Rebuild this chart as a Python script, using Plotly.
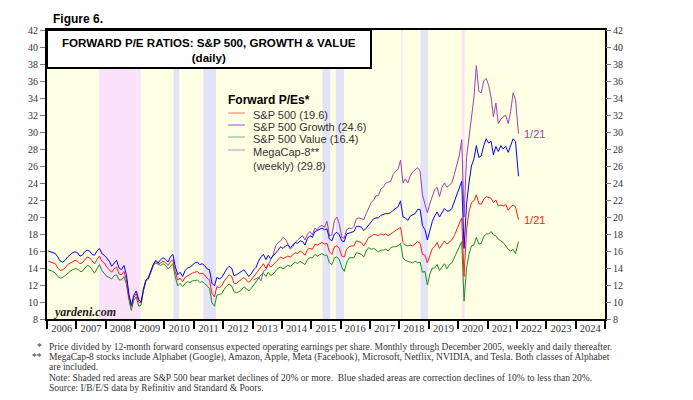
import pandas as pd
import plotly.graph_objects as go

# monthly readings (mid-month), last point is 2022-01-21
months = list(pd.date_range("2006-01-01", "2021-12-01", freq="MS") + pd.Timedelta(days=14))
dates = months + [pd.Timestamp("2022-01-21")]
mega_dates = [d for d in dates if d >= pd.Timestamp("2013-01-01")]

sp500 = [
    14.8, 14.7, 14.6, 14.5, 14.0, 13.7, 13.8, 14.0, 14.4, 14.6, 14.8, 14.9,
    14.8, 14.5, 14.6, 15.0, 15.3, 15.2, 14.8, 14.5, 15.0, 15.4, 14.8, 14.6,
    14.1, 13.8, 13.5, 13.9, 14.1, 13.3, 13.2, 13.6, 12.6, 10.6, 9.5, 10.5,
    11.0, 10.0, 9.9, 11.5, 12.6, 12.9, 13.6, 14.4, 14.8, 14.5, 14.6, 14.8,
    14.6, 14.3, 14.7, 15.0, 13.6, 12.6, 12.8, 12.4, 12.9, 13.1, 13.2, 13.4,
    13.5, 13.6, 13.3, 13.4, 13.2, 12.8, 12.6, 11.0, 10.6, 11.8, 11.7, 11.9,
    12.5, 12.9, 13.2, 13.0, 12.2, 12.2, 12.4, 12.6, 12.9, 12.6, 12.3, 12.6,
    13.0, 13.3, 13.8, 14.2, 14.5, 14.0, 14.5, 14.1, 14.4, 14.8, 15.1, 15.3,
    15.1, 15.3, 15.4, 15.3, 15.6, 15.8, 15.7, 16.0, 15.8, 15.5, 16.2, 16.3,
    16.2, 16.8, 16.7, 16.9, 17.0, 16.8, 16.9, 15.9, 15.6, 16.5, 16.6, 16.3,
    15.4, 15.3, 16.2, 16.5, 16.6, 16.6, 17.2, 17.1, 17.0, 16.6, 17.2, 17.6,
    17.7, 18.0, 17.9, 17.8, 18.0, 17.9, 18.0, 17.8, 18.0, 18.2, 18.3, 18.5,
    18.8, 17.0, 16.7, 16.6, 16.7, 16.6, 16.8, 17.1, 16.9, 15.6, 15.5, 14.6,
    15.5, 16.3, 16.5, 17.0, 16.3, 16.8, 17.2, 16.8, 17.0, 17.3, 17.8, 18.4,
    19.2, 19.9, 13.0, 18.5, 20.6, 21.7, 21.9, 22.6, 21.6, 21.5, 22.1, 22.4,
    22.3, 22.2, 21.7, 22.0, 21.3, 21.4, 21.3, 21.5, 20.8, 21.2, 21.4, 21.2,
    19.7,
]

growth = [
    16.0, 15.9, 15.8, 15.7, 15.3, 14.8, 14.7, 14.9, 15.3, 15.6, 15.8, 15.9,
    15.8, 15.4, 15.5, 15.9, 16.1, 16.0, 15.6, 15.5, 16.0, 16.3, 15.7, 15.5,
    15.1, 14.8, 14.2, 14.6, 14.9, 14.0, 13.8, 14.3, 13.2, 11.0, 9.6, 10.8,
    11.3, 10.3, 10.0, 11.5, 12.6, 12.8, 13.6, 14.4, 14.9, 14.6, 15.0, 15.2,
    15.0, 14.7, 15.3, 15.6, 14.2, 13.2, 13.5, 13.0, 13.7, 14.0, 14.1, 14.4,
    14.6, 14.7, 14.4, 14.5, 14.3, 13.9, 13.8, 12.2, 11.9, 12.9, 12.7, 12.9,
    13.5, 13.9, 14.2, 14.0, 13.1, 13.2, 13.4, 13.6, 13.8, 13.4, 13.0, 13.3,
    13.8, 14.1, 14.8, 15.3, 15.6, 15.0, 15.5, 15.1, 15.4, 15.8, 16.1, 16.5,
    16.3, 16.6, 16.7, 16.4, 16.7, 17.0, 16.9, 17.2, 17.1, 16.7, 17.5, 17.8,
    17.6, 18.3, 18.4, 18.6, 18.7, 18.5, 18.6, 17.4, 17.2, 18.0, 18.2, 17.9,
    17.2, 17.1, 18.0, 18.1, 18.2, 18.3, 18.9, 18.9, 18.8, 18.4, 18.7, 19.1,
    19.4, 19.8, 19.9, 19.9, 20.2, 20.3, 20.4, 20.4, 20.5, 20.8, 21.0, 21.2,
    21.9, 20.0, 19.9, 19.6, 20.1, 20.3, 20.4, 20.9, 20.9, 19.0, 18.5, 17.3,
    18.6, 19.5, 20.1, 20.6, 20.0, 20.6, 21.0, 20.7, 20.7, 21.0, 21.8, 22.6,
    23.3, 24.2, 16.3, 21.5, 24.0, 26.0, 26.8, 28.4, 27.0, 27.2, 28.4, 29.2,
    28.7, 28.9, 27.3, 28.3, 27.7, 28.4, 28.0, 28.3, 27.6, 28.4, 29.2, 28.9,
    24.8,
]

value = [
    13.8, 13.7, 13.6, 13.4, 13.0, 12.8, 12.9, 13.1, 13.4, 13.6, 13.8, 13.9,
    13.9, 13.6, 13.6, 14.0, 14.3, 14.2, 13.8, 13.4, 13.9, 14.4, 13.7, 13.4,
    13.0, 12.9, 12.7, 13.1, 13.2, 12.6, 12.6, 13.0, 12.1, 10.3, 9.0, 10.2,
    10.6, 9.5, 9.6, 11.3, 12.4, 12.7, 13.4, 14.3, 14.6, 14.4, 14.3, 14.5,
    14.3, 13.9, 14.2, 14.5, 13.0, 11.9, 12.2, 11.8, 12.2, 12.4, 12.3, 12.5,
    12.5, 12.6, 12.3, 12.4, 12.2, 11.9, 11.6, 9.9, 9.5, 10.8, 10.9, 11.0,
    11.5, 11.9, 12.1, 11.9, 11.2, 11.1, 11.2, 11.4, 11.8, 11.6, 11.3, 11.6,
    12.0, 12.3, 12.8, 13.2, 13.4, 13.0, 13.5, 13.1, 13.3, 13.7, 14.0, 14.1,
    13.9, 14.1, 14.3, 14.2, 14.4, 14.7, 14.5, 14.8, 14.6, 14.4, 15.0, 15.2,
    15.2, 15.6, 15.4, 15.6, 15.7, 15.5, 15.5, 14.6, 14.4, 15.2, 15.3, 15.0,
    14.1, 13.6, 14.6, 15.2, 15.2, 15.2, 15.8, 15.7, 15.6, 15.3, 16.0, 16.4,
    16.2, 16.3, 16.1, 15.9, 16.1, 16.1, 16.2, 16.0, 16.4, 16.5, 16.5, 16.6,
    16.9, 15.2, 14.9, 14.8, 14.7, 14.6, 14.8, 14.6, 14.7, 13.5, 13.6, 12.0,
    13.3, 14.0, 14.0, 14.4, 13.7, 14.1, 14.5, 13.9, 14.4, 14.6, 15.2, 15.8,
    16.3, 17.1, 10.1, 14.0, 15.6, 16.6, 16.7, 17.6, 16.8, 16.9, 17.7, 18.0,
    18.0, 18.3, 17.9, 17.8, 17.4, 17.2, 17.0, 16.6, 16.2, 16.0, 16.2, 15.7,
    17.1,
]

megacap8 = [
    12.6, 12.8, 12.9, 12.5, 13.6, 13.8, 14.4, 15.0, 15.6, 16.6, 17.0, 17.2,
    17.6, 17.4, 16.8, 16.2, 16.5, 17.0, 17.3, 17.6, 17.8, 17.3, 18.0, 18.3,
    17.9, 18.7, 18.5, 18.9, 19.0, 18.8, 19.5, 17.8, 17.9, 19.6, 20.0, 19.2,
    17.6, 17.5, 18.5, 18.7, 18.6, 18.9, 19.8, 19.9, 19.8, 19.7, 20.4, 21.0,
    21.7, 22.0, 22.5, 22.5, 23.3, 23.5, 24.0, 24.1, 24.2, 25.0, 25.4, 25.6,
    26.7, 24.0, 24.5, 24.0, 24.8, 25.3, 25.5, 25.8, 25.4, 22.6, 21.5, 20.5,
    21.6, 22.5, 23.2, 23.5, 22.4, 23.5, 24.0, 23.5, 23.8, 24.0, 25.0, 26.0,
    27.2, 29.1, 20.0, 27.0, 29.5, 31.4, 34.0, 37.8, 34.8, 34.6, 36.0, 36.3,
    35.5, 34.0, 31.8, 33.4, 31.0, 31.5, 31.8, 32.0, 31.0, 32.4, 34.6, 33.8,
    29.8,
]

# shaded periods
bear_markets = [("2007-10-09", "2009-03-09"), ("2020-02-19", "2020-03-23")]
corrections = [("2010-04-23", "2010-07-02"), ("2011-04-29", "2011-10-03"),
               ("2015-05-21", "2015-08-25"), ("2015-11-03", "2016-02-11"),
               ("2018-01-26", "2018-02-08"), ("2018-09-20", "2018-12-24")]

legend_names = ["S&P 500 (19.6)", "S&P 500 Growth (24.6)", "S&P 500 Value (16.4)",
                "MegaCap-8**<br>(weekly) (29.8)"]

footnotes = [
    ("*", "Price divided by 12-month forward consensus expected operating earnings per share. Monthly through December 2005, weekly and daily thereafter."),
    ("**", "MegaCap-8 stocks include Alphabet (Google), Amazon, Apple, Meta (Facebook), Microsoft, Netflix, NVIDIA, and Tesla. Both classes of Alphabet"),
    ("", "are included."),
    ("", "Note: Shaded red areas are S&P 500 bear market declines of 20% or more.  Blue shaded areas are correction declines of 10% to less than 20%."),
    ("", "Source: I/B/E/S data by Refinitiv and Standard & Poors."),
]

RED = "#FF1A1A"
BLUE = "#0000FF"
GREEN = "#1E8C1E"
PURPLE = "#A040B0"
SERIF = "Liberation Serif"
SANS = "Liberation Sans"

W, H = 693, 400
ML, MR, MT, MB = 47, 88, 30, 81
PW, PH = W - ML - MR, H - MT - MB


def px(x):
    return (x - ML) / PW


def py(y):
    return (H - MB - y) / PH


fig = go.Figure()
for name, xs, ys, col in [("MegaCap-8", mega_dates, megacap8, PURPLE),
                          ("S&P 500 Value", dates, value, GREEN),
                          ("S&P 500", dates, sp500, RED),
                          ("S&P 500 Growth", dates, growth, BLUE)]:
    fig.add_trace(go.Scatter(x=xs, y=ys, mode="lines", name=name,
                             line=dict(color=col, width=1), showlegend=False))
# invisible copy so the right-hand axis is drawn
fig.add_trace(go.Scatter(x=dates, y=sp500, yaxis="y2", mode="lines",
                         line=dict(width=0), opacity=0, showlegend=False,
                         hoverinfo="skip"))

shapes = []
for a, b in bear_markets:
    shapes.append(dict(type="rect", xref="x", yref="y", x0=a, x1=b, y0=8, y1=42,
                       fillcolor="#FBE2FB", line_width=0, layer="below"))
for a, b in corrections:
    shapes.append(dict(type="rect", xref="x", yref="y", x0=a, x1=b, y0=8, y1=42,
                       fillcolor="#E2E2F8", line_width=0, layer="below"))
# title box
shapes.append(dict(type="rect", xref="paper", yref="paper", x0=0, x1=px(371),
                   y0=py(68), y1=1, fillcolor="white",
                   line=dict(color="black", width=2)))
# legend samples
leg_cols = [RED, BLUE, GREEN, PURPLE]
leg_y = [113, 125, 137, 150]
for c, yy in zip(leg_cols, leg_y):
    shapes.append(dict(type="line", xref="paper", yref="paper", x0=px(228), x1=px(245),
                       y0=py(yy), y1=py(yy), line=dict(color=c, width=1), opacity=0.6))

ann = []
ann.append(dict(text="<b>Figure 6.</b>", xref="paper", yref="paper", x=px(51), y=py(19),
                xanchor="left", yanchor="middle", showarrow=False,
                font=dict(family=SANS, size=12, color="black")))
ann.append(dict(text="<b>FORWARD P/E RATIOS: S&P 500, GROWTH & VALUE</b><br><b>(daily)</b>",
                xref="paper", yref="paper", x=px(209), y=py(50), xanchor="center",
                yanchor="middle", showarrow=False,
                font=dict(family=SANS, size=11.6, color="black")))
ann.append(dict(text="<b>Forward P/Es*</b>", xref="paper", yref="paper", x=px(226), y=py(100),
                xanchor="left", yanchor="middle", showarrow=False,
                font=dict(family=SANS, size=12, color="black")))
for name, yy in zip(legend_names, leg_y):
    ann.append(dict(text=name, xref="paper", yref="paper", x=px(251), y=py(yy - 6),
                    xanchor="left", yanchor="top", showarrow=False, align="left",
                    font=dict(family=SANS, size=11, color="#333333")))
ann.append(dict(text="<b><i>yardeni.com</i></b>", xref="paper", yref="paper", x=px(51), y=py(312),
                xanchor="left", yanchor="middle", showarrow=False,
                font=dict(family=SERIF, size=12, color="#222222")))
ann.append(dict(text="1/21", x=mega_dates[-1], y=megacap8[-1], xref="x", yref="y",
                xanchor="left", yanchor="middle", xshift=4, showarrow=False,
                font=dict(family=SANS, size=11, color=PURPLE)))
ann.append(dict(text="1/21", x=dates[-1], y=sp500[-1], xref="x", yref="y",
                xanchor="left", yanchor="middle", xshift=4, showarrow=False,
                font=dict(family=SANS, size=11, color=RED)))
for i, (mark, line) in enumerate(footnotes):
    yy = 347 + i * 10.2
    if mark:
        ann.append(dict(text=mark, xref="paper", yref="paper", x=px(44), y=py(yy),
                        xanchor="right", yanchor="middle", showarrow=False,
                        font=dict(family=SERIF, size=9.5, color="#333333")))
    ann.append(dict(text=line, xref="paper", yref="paper", x=px(47), y=py(yy),
                    xanchor="left", yanchor="middle", showarrow=False,
                    font=dict(family=SERIF, size=9.5, color="#333333")))

yax = dict(range=[8, 42], dtick=2, tick0=8, showgrid=False, zeroline=False,
           ticks="outside", ticklen=5, tickcolor="#777777",
           tickfont=dict(family=SERIF, size=10, color="#333333"), fixedrange=True)

fig.update_layout(
    width=W, height=H,
    margin=dict(l=ML, r=MR, t=MT, b=MB),
    paper_bgcolor="white", plot_bgcolor="#FFFFE4",
    showlegend=False,
    xaxis=dict(type="date", range=["2006-01-01", "2025-01-01"], dtick="M12",
               tick0="2006-01-01", tickformat="%Y", ticklabelmode="period",
               ticks="outside", ticklen=8, tickwidth=2, tickcolor="black",
               ticklabelstandoff=-10,
               showline=True, linewidth=2, linecolor="black", mirror=True,
               showgrid=False, tickfont=dict(family=SERIF, size=10.5, color="#333333")),
    yaxis=dict(**yax, side="left", showline=True, linewidth=2, linecolor="black", mirror=True),
    yaxis2=dict(**yax, side="right", overlaying="y", showline=False),
    shapes=shapes,
    annotations=ann,
)

# page has a default 8px body margin; drop it so the figure sits at 0,0
fig.write_html("out.html", config={"displayModeBar": False},
               post_script="document.body.style.margin='0';")
